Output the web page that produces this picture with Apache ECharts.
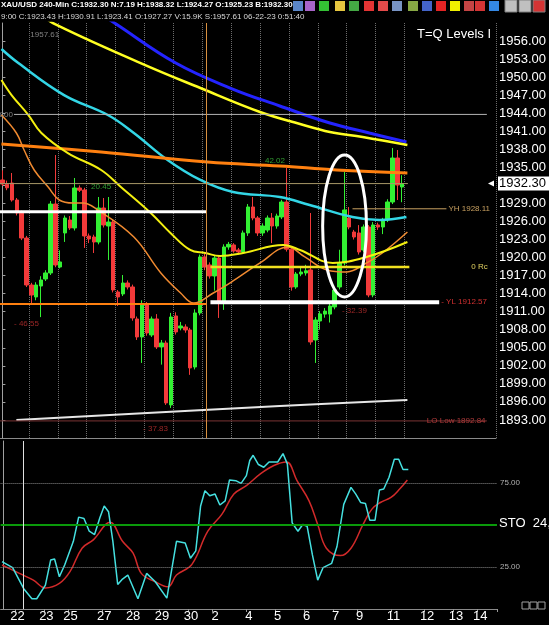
<!DOCTYPE html>
<html>
<head>
<meta charset="utf-8">
<script src="https://cdn.jsdelivr.net/npm/echarts@6/dist/echarts.min.js"></script>
<style>
  html, body { margin: 0; padding: 0; background: #000; }
  #chart { width: 549px; height: 625px; }
</style>
</head>
<body>
<div id="chart"></div>
<script>
// XAU/USD 240-min, one slot per bar (empty slots on the right = future space)
const slotCount = 103
const slots = []
for (let i = 0; i < slotCount; i++) slots.push(String(i))

const opens = [1932.90,1932.20,1932.40,1929.57,1927.41,1923.25,1915.44,1913.45,1915.27,1916.44,
  1917.44,1928.90,1918.43,1924.09,1926.25,1924.92,1931.57,1931.23,1923.59,1923.42,
  1922.59,1928.24,1925.25,1925.91,1914.28,1913.95,1915.77,1915.11,1909.79,1906.80,
  1912.28,1907.13,1909.79,1905.14,1905.80,1895.50,1910.29,1908.29,1908.46,1907.96,
  1901.81,1910.79,1920.10,1918.77,1916.94,1919.93,1912.45,1921.76,1922.10,1921.26,
  1920.93,1924.09,1928.41,1926.58,1924.09,1924.58,1926.58,1925.25,1926.75,1929.24,
  1921.40,1915.11,1917.27,1917.44,1917.94,1906.30,1909.46,1910.60,1910.60,1911.79,
  1915.11,1919.10,1926.58,1924.25,1924.09,1921.26,1925.08,1913.78,1925.42,1925.08,
  1926.25,1929.24,1936.55,1931.73]
const closes = [1932.23,1931.60,1929.57,1927.41,1923.25,1915.44,1913.78,1915.44,1916.27,1917.44,
  1928.90,1918.77,1919.27,1926.58,1924.92,1931.57,1931.20,1923.59,1923.09,1922.59,
  1928.24,1925.42,1925.91,1914.61,1913.45,1915.77,1915.11,1909.96,1906.80,1912.28,
  1907.46,1909.79,1905.14,1905.80,1895.83,1910.12,1907.63,1908.63,1907.96,1901.65,
  1910.79,1920.10,1918.43,1916.94,1919.93,1912.45,1921.76,1922.20,1921.09,1920.93,
  1924.09,1928.41,1926.58,1924.09,1925.25,1926.58,1925.25,1926.91,1929.24,1921.40,
  1915.11,1917.27,1917.60,1917.80,1905.97,1909.62,1910.62,1911.10,1911.95,1914.61,
  1919.10,1927.91,1925.08,1923.42,1920.93,1925.08,1913.78,1925.42,1925.08,1926.25,
  1929.24,1936.55,1932.06,1932.30]
const lows = [1931.90,1931.20,1929.30,1927.00,1922.90,1915.10,1912.45,1912.90,1910.10,1916.10,
  1917.10,1918.40,1918.20,1922.60,1924.60,1924.50,1930.90,1921.60,1922.40,1920.76,
  1922.20,1925.00,1919.60,1914.20,1911.95,1913.60,1914.70,1909.50,1906.30,1902.48,
  1907.00,1906.80,1904.80,1902.20,1895.50,1895.00,1907.20,1907.90,1907.50,1900.50,
  1901.40,1910.40,1917.90,1916.50,1914.50,1909.96,1911.30,1921.30,1920.80,1920.50,
  1920.60,1923.60,1926.20,1923.60,1923.60,1924.20,1922.40,1924.80,1926.40,1921.00,
  1914.50,1914.80,1916.90,1917.00,1905.50,1902.48,1908.00,1910.00,1909.20,1911.40,
  1914.70,1918.70,1924.70,1923.00,1920.50,1920.90,1913.40,1913.40,1924.60,1923.90,
  1925.90,1928.90,1929.57,1929.20]
const highs = [1934.50,1932.80,1934.06,1929.90,1927.80,1923.60,1915.80,1915.90,1916.90,1917.90,
  1929.40,1937.05,1921.20,1927.00,1926.90,1933.23,1932.00,1931.60,1924.00,1923.80,
  1930.07,1929.90,1930.07,1926.30,1914.60,1917.10,1916.20,1915.50,1910.20,1912.90,
  1912.60,1910.20,1910.60,1906.30,1906.20,1910.80,1910.90,1909.30,1908.90,1908.30,
  1911.40,1920.50,1920.60,1919.20,1920.40,1920.30,1922.20,1922.60,1922.40,1921.60,
  1924.50,1928.90,1930.07,1926.90,1925.70,1927.00,1927.40,1927.30,1929.60,1934.89,
  1921.80,1917.60,1918.40,1918.80,1927.41,1910.10,1911.10,1911.60,1912.40,1915.00,
  1921.30,1934.22,1928.40,1924.60,1925.40,1925.50,1925.40,1925.90,1925.80,1926.60,
  1929.70,1938.22,1937.88,1933.70]

// moving averages read at [bar, price]
const maBlue = [[20.5,1960.49],[23.6,1958.83],[36.0,1952.34],[47.3,1948.19],[57.6,1945.20],[68.0,1942.37],[76.2,1940.71],[83.9,1939.21]]
const maYellow = [[8.1,1960.49],[10.5,1958.99],[28.7,1952.34],[41.1,1948.19],[53.5,1944.20],[61.8,1942.20],[68.0,1940.87],[74.8,1940.04],[84.1,1938.71]]
const maCyan = [[-0.2,1954.67],[3.3,1952.34],[12.8,1947.02],[21.9,1943.70],[27.3,1940.71],[34.3,1936.22],[41.1,1932.90],[47.9,1930.90],[57.6,1930.07],[63.8,1928.74],[72.7,1926.74],[78.3,1926.25],[83.9,1926.74]]
const maOrangeSlow = [[-0.2,1938.88],[20.5,1937.55],[42.6,1935.89],[57.6,1935.23],[69.4,1934.56],[84.1,1934.06]]
const maOrangeFast = [[-0.2,1943.70],[2.9,1940.71],[4.5,1937.88],[6.6,1934.56],[9.5,1931.73],[11.8,1929.57],[14.7,1929.07],[16.7,1929.07],[19.8,1927.91],[27.3,1923.42],[32.9,1917.44],[37.0,1914.11],[39.7,1912.45],[43.8,1914.11],[47.9,1916.11],[53.5,1919.10],[59.3,1921.76],[62.8,1920.10],[67.4,1917.94],[71.5,1917.60],[75.6,1919.10],[78.9,1920.76],[84.1,1924.25]]
const maYellowFast = [[-0.2,1949.52],[1.9,1947.02],[5.4,1943.70],[8.1,1940.71],[13.6,1937.38],[20.5,1934.56],[24.6,1931.73],[30.8,1927.41],[34.9,1924.09],[39.0,1921.26],[42.1,1920.76],[45.2,1920.26],[50.0,1920.76],[58.3,1922.09],[61.8,1921.26],[68.6,1919.10],[75.6,1920.10],[84.1,1922.59]]
const maWhite = [[2.9,1893.00],[57.6,1895.33],[84.1,1896.33]]

// stochastic %K (turning points) and %D
const stochK = [[-0.2,28.2],[2.0,24.6],[4.3,12.1],[6.0,6.1],[7.0,6.1],[8.8,14.2],[9.9,29.2],[10.7,29.8],[11.7,19.2],[12.8,26.2],[14.6,40.3],[15.7,54.7],[16.8,53.9],[17.9,46.3],[19.0,44.3],[20.1,54.3],[21.0,61.3],[21.9,57.9],[22.8,40.3],[23.8,14.6],[24.8,17.8],[25.9,20.2],[28.0,6.1],[29.8,21.2],[31.6,16.2],[34.0,6.5],[36.0,40.3],[37.8,39.3],[38.9,30.2],[40.0,34.6],[41.0,61.3],[41.9,70.4],[42.9,67.4],[44.0,68.4],[45.0,61.9],[46.1,64.4],[47.0,76.8],[48.3,76.4],[49.4,74.8],[50.5,79.4],[51.2,88.4],[51.9,91.5],[53.0,86.0],[54.1,84.4],[55.2,87.5],[57.0,87.5],[58.1,92.5],[59.0,86.4],[60.0,51.3],[61.2,46.3],[62.2,50.3],[63.1,49.3],[64.2,32.2],[65.3,17.2],[66.4,24.6],[68.2,27.2],[69.3,37.2],[70.7,62.3],[72.2,72.4],[73.2,68.4],[74.2,63.4],[75.2,62.8],[76.1,52.9],[77.2,52.9],[78.1,70.8],[79.0,71.4],[80.1,78.4],[81.2,89.1],[82.1,89.1],[83.0,83.0],[84.1,83.0]]
const stochD = [[-0.2,26.2],[3.4,21.2],[6.3,17.2],[8.8,12.5],[11.7,15.2],[13.9,22.2],[16.4,36.2],[18.8,41.3],[22.2,51.7],[24.8,40.3],[27.0,33.2],[28.7,21.2],[31.6,16.2],[34.2,13.2],[36.0,20.2],[39.2,26.6],[42.5,46.3],[45.4,56.3],[47.9,68.4],[50.5,73.4],[53.4,80.4],[56.2,85.4],[58.8,87.5],[61.0,76.4],[63.5,64.4],[65.3,50.3],[67.1,36.2],[70.0,31.8],[72.2,36.2],[74.7,50.3],[76.5,59.3],[78.3,63.4],[80.5,66.4],[82.3,71.4],[83.9,76.8]]

// date labels under the stochastic panel
const dayTickIdx = [3,9,14,21,27,33,39,44,51,57,63,69,74,81,88,94,99]
const dayTickText = ['22','23','25','27','28','29','30','2','4','5','6','7','9','11','12','13','14']
const sessionIdx = [6,12,18,24,30,36,42,48,54,60,66,72,78,84]

// price levels
const lastPrice = 1932.30
const level800 = 1943.80
const prevHigh = 1927.60
const prevSupport = 1912.28
const ylPrice = 1912.57
const yhPrice = 1928.11
const rcPrice = 1918.43
const loLow = 1892.84

// swing annotations
const swingIdx = [8.8, 20.5, 56.6, 5.0, 31.8, 73.1, 0.8]
const swingPrice = [1957.0, 1931.7, 1936.05, 1908.96, 1891.5, 1911.12, 1943.8]
const swingText = ['1957.61', '20.45', '42.02', '- 46.55', '- 37.83', '- 32.39', '800']
const swingColor = ['#a0a0a0', '#3cc03c', '#3cc03c', '#c03030', '#c03030', '#c03030', '#a0a0a0']

const ff = 'Liberation Sans'
const chart = echarts.init(document.getElementById('chart'))

function ma(data, color, width) {
  return {
    type: 'line', xAxisIndex: 1, yAxisIndex: 0, data: data,
    smooth: 0.4, symbol: 'none', lineStyle: { color: color, width: width }, z: 3
  }
}

function level(from, to, price, color, width, label) {
  const s = {
    type: 'line', xAxisIndex: 1, yAxisIndex: 0,
    data: [[from, price], [to, price]],
    symbol: 'none', lineStyle: { color: color, width: width }, z: 4
  }
  if (label) s.endLabel = Object.assign({ show: true, fontFamily: ff, fontSize: 8 }, label)
  return s
}

const candles = opens.map((o, i) => [o, closes[i], lows[i], highs[i]])
const swings = swingIdx.map((x, i) => ({
  value: [x, swingPrice[i]],
  label: { formatter: swingText[i], color: swingColor[i] }
}))

const option = {
  backgroundColor: '#000',
  animation: false,
  textStyle: { fontFamily: ff },
  grid: [
    { left: -1, right: 52, top: 23, height: 415 },
    { left: -1, right: 52, top: 441, height: 168 }
  ],
  xAxis: [
    {
      type: 'category', gridIndex: 0, data: slots, boundaryGap: true,
      axisLabel: { show: false }, axisTick: { show: false },
      axisLine: { lineStyle: { color: '#8a8a8a' } },
      splitLine: {
        show: true,
        interval: (i) => sessionIdx.indexOf(i) >= 0,
        lineStyle: { color: '#6c6c6c', type: 'dotted' }
      }
    },
    { type: 'value', gridIndex: 0, min: -0.5, max: slotCount - 0.5, show: false },
    {
      type: 'category', gridIndex: 1, data: slots, boundaryGap: true,
      axisLine: { lineStyle: { color: '#8a8a8a' } },
      axisTick: {
        show: true, length: 3, interval: (i) => dayTickIdx.indexOf(i) >= 0,
        lineStyle: { color: '#9a9a9a' }
      },
      axisLabel: {
        interval: 0, margin: 1, color: '#fff', fontSize: 13,
        formatter: (v, i) => {
          const k = dayTickIdx.indexOf(i)
          return k >= 0 ? dayTickText[k] : ''
        }
      },
      splitLine: { show: false }
    },
    { type: 'value', gridIndex: 1, min: -0.5, max: slotCount - 0.5, show: false }
  ],
  yAxis: [
    {
      type: 'value', gridIndex: 0, position: 'right', min: 1890, max: 1959, interval: 3,
      splitLine: { show: false },
      axisLine: { show: true, lineStyle: { color: '#a0a0a0' } },
      axisTick: { show: true, length: 3, lineStyle: { color: '#a0a0a0' } },
      axisLabel: {
        color: '#fff', fontSize: 13, margin: 3, showMinLabel: false, showMaxLabel: false,
        formatter: (v) => (v === 1932 ? '' : v.toFixed(2))
      }
    },
    {
      type: 'value', gridIndex: 1, position: 'right', min: 0, max: 100, interval: 25,
      splitLine: { show: false },
      axisLine: { show: true, lineStyle: { color: '#a0a0a0' } },
      axisTick: { show: false },
      axisLabel: {
        color: '#b0b0b0', fontSize: 8, margin: 3,
        formatter: (v) => (v === 75 || v === 25 ? v.toFixed(2) : '')
      }
    }
  ],
  series: [
    {
      type: 'candlestick', xAxisIndex: 0, yAxisIndex: 0, data: candles, barWidth: 4,
      itemStyle: { color: '#33f033', color0: '#f23a3a', borderColor: '#33f033', borderColor0: '#f23a3a', borderWidth: 1 },
      z: 2
    },
    ma(maBlue, '#2424ff', 3),
    ma(maYellow, '#ffff22', 2.5),
    ma(maCyan, '#33d6e6', 2.5),
    ma(maOrangeSlow, '#ff8010', 3),
    ma(maOrangeFast, '#f08a30', 1.5),
    ma(maYellowFast, '#f4f010', 2),
    ma(maWhite, '#e6e6e6', 2),
    level(-0.5, 84.2, lastPrice, '#a89868', 1),
    level(2.4, 100.6, level800, '#b4b4b4', 1),
    level(-0.5, 42.4, prevHigh, '#ffffff', 3),
    Object.assign(level(-0.5, 42.4, prevSupport, '#ff8010', 2), {
      markLine: {
        silent: true, symbol: 'none', label: { show: false },
        lineStyle: { color: '#d89040', width: 1, type: 'solid' },
        data: [{ xAxis: 42.3 }]
      }
    }),
    level(43.2, 90.7, ylPrice, '#ffffff', 4, { formatter: '- YL 1912.57', color: '#d03030', distance: 2 }),
    level(72.7, 92.2, yhPrice, '#c8a060', 1, { formatter: 'YH 1928.11', color: '#c8a060', distance: 2 }),
    level(43.2, 84.5, rcPrice, '#f0e020', 2.5, { formatter: '0 Rc', color: '#e0d060', distance: 2, offset: [60, 0] }),
    level(-0.5, 100.6, loLow, '#7a3434', 1, { formatter: 'LO Low 1892.84', color: '#b03a3a', distance: 2, offset: [-62, 0] }),
    {
      type: 'scatter', xAxisIndex: 1, yAxisIndex: 0, data: swings,
      symbolSize: 1, itemStyle: { color: 'rgba(0,0,0,0)' },
      label: { show: true, position: 'inside', fontSize: 8 }, z: 5
    },
    {
      type: 'line', xAxisIndex: 3, yAxisIndex: 1, data: stochK, symbol: 'none',
      lineStyle: { color: '#45e0e0', width: 1.5 }, z: 4,
      markLine: {
        silent: true, symbol: 'none', label: { show: false },
        data: [
          { yAxis: 75, lineStyle: { color: '#8a8a8a', type: 'dotted', width: 1 } },
          { yAxis: 25, lineStyle: { color: '#8a8a8a', type: 'dotted', width: 1 } },
          { yAxis: 50, lineStyle: { color: '#0a9a0a', type: 'solid', width: 2 } },
          { xAxis: 4.2, lineStyle: { color: '#e0e0e0', type: 'solid', width: 1 } }
        ]
      }
    },
    {
      type: 'line', xAxisIndex: 3, yAxisIndex: 1, data: stochD, symbol: 'none',
      smooth: 0.4, lineStyle: { color: '#d22a2a', width: 1.5 }, z: 3
    }
  ]
}

chart.setOption(option)

// annotations placed from data coordinates
const p0 = chart.convertToPixel({ seriesIndex: 1 }, [66.5, 1937.05])
const p1 = chart.convertToPixel({ seriesIndex: 1 }, [75.6, 1913.45])
const py = chart.convertToPixel({ seriesIndex: 1 }, [0, lastPrice])[1]

const toolColors = ['#5a86c8','#a864c8','#34c034','#e6c640','#44a844','#e43434','#e44a4a','#7894c4',
  '#88a844','#4464c8','#e42424','#f0f000','#c44444','#d43434','#3488e4']
const toolX = [298,310,324,340,354,369,383,397,413,427,441,455,469,480,494]
const graphics = []
toolX.forEach((x, i) => {
  graphics.push({ type: 'rect', shape: { x: x - 5, y: 1, width: 10, height: 10 }, style: { fill: toolColors[i] } })
})
;[511, 525, 539].forEach((x, i) => {
  graphics.push({ type: 'rect', shape: { x: x - 6, y: 0, width: 12, height: 12 }, style: { fill: i === 2 ? '#d43434' : '#c0c0c0', stroke: '#808080' } })
})
graphics.push(
  { type: 'text', x: 1, y: 1, style: { text: 'XAU/USD 240-Min C:1932.30 N:7.19 H:1938.32 L:1924.27 O:1925.23 B:1932.30', fill: '#fff', font: 'bold 8px "Liberation Sans Narrow", "Liberation Sans"' } },
  { type: 'text', x: 1, y: 13, style: { text: '9:00 C:1923.43 H:1930.91 L:1923.41 O:1927.27 V:15.9K S:1957.61 06-22-23 0:51:40', fill: '#d8d8d8', font: '8px "Liberation Sans Narrow", "Liberation Sans"' } },
  { type: 'text', x: 417, y: 28, style: { text: 'T=Q Levels I', fill: '#fff', font: '13px ' + ff } },
  { type: 'text', x: 499, y: 517, style: { text: 'STO  24,', fill: '#fff', font: '13px ' + ff } },
  { type: 'ellipse', shape: { cx: (p0[0] + p1[0]) / 2, cy: (p0[1] + p1[1]) / 2, rx: Math.abs(p1[0] - p0[0]) / 2, ry: Math.abs(p1[1] - p0[1]) / 2 }, style: { fill: 'none', stroke: '#fff', lineWidth: 3 }, z: 10 },
  { type: 'polygon', shape: { points: [[488, py], [494, py - 3], [494, py + 3]] }, style: { fill: '#fff' } },
  { type: 'rect', shape: { x: 498, y: py - 7, width: 51, height: 14 }, style: { fill: '#fff' } },
  { type: 'text', x: 499, y: py, style: { text: '1932.30', fill: '#000', font: '13px ' + ff, verticalAlign: 'middle' } }
)
;[522, 530, 538].forEach((x) => {
  graphics.push({ type: 'rect', shape: { x: x, y: 602, width: 7, height: 7 }, style: { fill: 'none', stroke: '#a0a0a0' } })
})
chart.setOption({ graphic: graphics })
</script>
</body>
</html>
